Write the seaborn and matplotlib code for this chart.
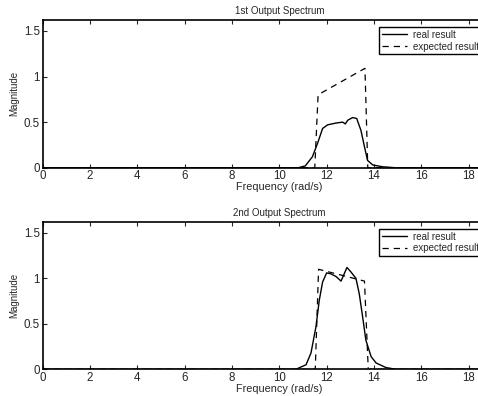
import matplotlib
matplotlib.use('Agg')
import matplotlib.pyplot as plt
import numpy as np
import pandas as pd
import seaborn as sns

# 1st output spectrum
freq_real_1 = [0, 10.0, 10.8, 11.1, 11.4, 11.62, 11.83, 12.04, 12.4, 12.68, 12.79,
               12.89, 13.1, 13.27, 13.45, 13.6, 13.73, 13.95, 14.37, 14.9, 20]
mag_real_1 = [0, 0, 0.0, 0.02, 0.12, 0.27, 0.43, 0.47, 0.49, 0.50, 0.48,
              0.52, 0.55, 0.54, 0.41, 0.23, 0.08, 0.03, 0.01, 0.0, 0]
freq_exp_1 = [0, 11.5, 11.64, 13.62, 13.74, 20]
mag_exp_1 = [0, 0, 0.80, 1.09, 0, 0]

# 2nd output spectrum
freq_real_2 = [0, 10.0, 10.7, 11.13, 11.34, 11.55, 11.69, 11.83, 12.0, 12.18, 12.4,
               12.61, 12.86, 13.03, 13.24, 13.38, 13.52, 13.66, 13.88, 14.09,
               14.5, 14.93, 20]
mag_real_2 = [0, 0, 0.0, 0.05, 0.18, 0.47, 0.76, 0.96, 1.06, 1.05, 1.02,
              0.97, 1.12, 1.07, 1.0, 0.83, 0.58, 0.32, 0.14, 0.07,
              0.02, 0.0, 0]
freq_exp_2 = [0, 11.52, 11.66, 13.6, 13.76, 20]
mag_exp_2 = [0, 0, 1.10, 0.97, 0, 0]

titles = ['1st Output Spectrum', '2nd Output Spectrum']
xticks = [0, 2, 4, 6, 8, 10, 12, 14, 16, 18]
yticks = [0, 0.5, 1, 1.5]
ytick_labels = ['0', '0.5', '1', '1.5']

sns.set_style('ticks')
plt.rcParams['font.family'] = ['Liberation Sans', 'DejaVu Sans']
plt.rcParams['xtick.direction'] = 'in'
plt.rcParams['ytick.direction'] = 'in'

fig = plt.figure(figsize=(4.78, 3.96), dpi=100)
ax1 = fig.add_axes([0.0893, 0.5765, 0.99, 0.373])
ax2 = fig.add_axes([0.0893, 0.0674, 0.99, 0.372])

datasets = [(freq_real_1, mag_real_1, freq_exp_1, mag_exp_1),
            (freq_real_2, mag_real_2, freq_exp_2, mag_exp_2)]

for ax, title, (fr, mr, fe, me) in zip([ax1, ax2], titles, datasets):
    df_real = pd.DataFrame({'f': fr, 'm': mr})
    df_exp = pd.DataFrame({'f': fe, 'm': me})
    sns.lineplot(data=df_real, x='f', y='m', ax=ax, color='black', lw=1.0,
                 sort=False, estimator=None, label='real result')
    sns.lineplot(data=df_exp, x='f', y='m', ax=ax, color='black', lw=0.9,
                 sort=False, estimator=None, label='expected result',
                 linestyle='--')
    ax.lines[1].set_dashes((5, 4))
    ax.set_xlim(0, 20)
    ax.set_ylim(0, 1.62)
    ax.set_xticks(xticks)
    ax.set_yticks(yticks)
    ax.set_yticklabels(ytick_labels)
    ax.tick_params(labelsize=8.3, length=3, width=0.8, top=True, right=True, pad=2)
    ax.set_title(title, fontsize=7, pad=4)
    ax.set_xlabel('Frequency (rad/s)', fontsize=7.8, labelpad=0)
    ax.set_ylabel('Magnitude', fontsize=7, labelpad=3)
    for s in ax.spines.values():
        s.set_linewidth(1.2)
        s.set_color('black')
    leg = ax.legend(loc='upper left', bbox_to_anchor=(0.711, 0.955), fontsize=7,
                    frameon=True, fancybox=False, edgecolor='black',
                    framealpha=1, handlelength=2.6, handletextpad=0.6,
                    borderpad=0.3, labelspacing=0.2, borderaxespad=0)
    leg.get_frame().set_linewidth(1.0)
    if ax is ax2:
        leg.get_lines()[1].set_dashes((5, 4))
    else:
        leg.get_lines()[1].set_dashes((5, 4))

fig.savefig('out.png', dpi=100)
